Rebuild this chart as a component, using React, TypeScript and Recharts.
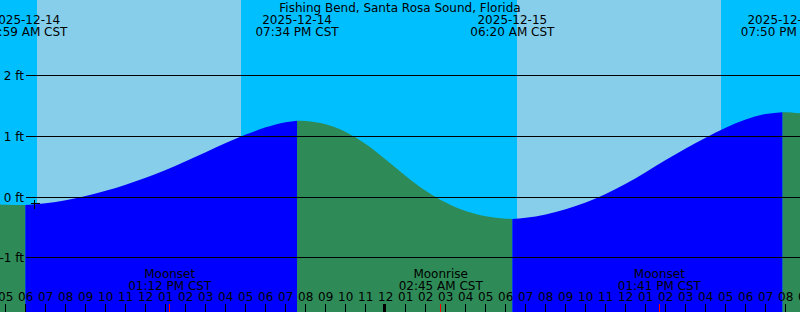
import React from 'react';
import { ComposedChart, Area, XAxis, YAxis, ReferenceArea, Scatter } from 'recharts';

const W = 800;
const H = 312;
const FONT = '"DejaVu Sans", sans-serif';

// hours counted from 2025-12-14 00:00 CST; water level in feet
const sampleHours = [4.715, 5, 5.983, 7, 8, 9, 10, 11, 12, 13, 14, 15, 16, 17, 18, 19, 19.567, 20, 21, 22, 23, 24, 25, 26, 27, 28, 29, 30, 30.333, 31, 32, 33, 34, 35, 36, 37, 38, 39, 40, 41, 42, 43, 43.833, 44.3, 44.715];
const sampleFeet = [-0.12, -0.125, -0.13, -0.1, -0.05, 0.018, 0.103, 0.203, 0.318, 0.448, 0.59, 0.74, 0.89, 1.03, 1.15, 1.235, 1.26, 1.254, 1.199, 1.074, 0.874, 0.619, 0.349, 0.104, -0.091, -0.231, -0.316, -0.356, -0.36, -0.34, -0.285, -0.202, -0.09, 0.052, 0.22, 0.41, 0.61, 0.8, 0.98, 1.145, 1.28, 1.37, 1.4, 1.395, 1.38];

const extremeHours = [5.983, 19.567, 30.333, 43.833];
const extremeFeet = [-0.13, 1.26, -0.36, 1.4];
const extremeDates = ['2025-12-14', '2025-12-14', '2025-12-15', '2025-12-15'];
const extremeTimes = ['05:59 AM CST', '07:34 PM CST', '06:20 AM CST', '07:50 PM CST'];

const sunriseHours = [6.565, 30.565];
const sunsetHours = [16.765, 40.765];

const moonHours = [13.2, 26.75, 37.683];
const moonEvents = ['Moonset', 'Moonrise', 'Moonset'];
const moonTimes = ['01:12 PM CST', '02:45 AM CST', '01:41 PM CST'];

const nowHours = [6.415];
const nowFeet = [-0.11];

const hourTicks = [5, 6, 7, 8, 9, 10, 11, 12, 13, 14, 15, 16, 17, 18, 19, 20, 21, 22, 23, 24, 25, 26, 27, 28, 29, 30, 31, 32, 33, 34, 35, 36, 37, 38, 39, 40, 41, 42, 43, 44, 45];
const hourLabels = ['05', '06', '07', '08', '09', '10', '11', '12', '01', '02', '03', '04', '05', '06', '07', '08', '09', '10', '11', '12', '01', '02', '03', '04', '05', '06', '07', '08', '09', '10', '11', '12', '01', '02', '03', '04', '05', '06', '07', '08', '09'];

const footTicks = [-1, 0, 1, 2];
const footLabels = ['-1 ft', '0 ft', '1 ft', '2 ft'];

const xDomain = [4.715, 44.715];
const yDomain = [-1.8939, 3.2487];

const tideRows = sampleHours.map((h, i) => {
  const v = sampleFeet[i];
  const next = extremeHours.findIndex((e) => e > h);
  let rising: boolean;
  if (next === -1) {
    const last = extremeHours.length - 1;
    rising = extremeFeet[last] < extremeFeet[last - 1];
  } else if (next === 0) {
    rising = extremeFeet[0] > extremeFeet[1];
  } else {
    rising = extremeFeet[next] > extremeFeet[next - 1];
  }
  const row: any = { h, rise: rising ? v : null, fall: rising ? null : v };
  if (extremeHours.includes(h)) {
    row.rise = v;
    row.fall = v;
  }
  return row;
});

const extremeRows = extremeHours.map((h, i) => ({ h, ft: extremeFeet[i], date: extremeDates[i], time: extremeTimes[i] }));
const moonRows = moonHours.map((h, i) => ({ h, ft: 0, name: moonEvents[i], time: moonTimes[i] }));
const nowRows = nowHours.map((h, i) => ({ h, ft: nowFeet[i] }));

const textStyle = { fontFamily: FONT, fontSize: 12, fill: '#000' };

const HourTick = (props: any) => {
  const { x, y, payload } = props;
  const h = payload.value;
  const idx = hourTicks.indexOf(h);
  const midnight = h % 24 === 0;
  const lx = midnight ? Math.floor(x) - 0.5 : Math.floor(x) + 0.5;
  return (
    <g>
      <line x1={lx} x2={lx} y1={y - 8} y2={y} stroke="#000" strokeWidth={midnight ? 3 : 1} shapeRendering="crispEdges" />
      <text x={x} y={y - 11} textAnchor="middle" style={textStyle}>{hourLabels[idx]}</text>
    </g>
  );
};

const FootTick = (props: any) => {
  const { x, y, payload } = props;
  const idx = footTicks.indexOf(payload.value);
  const ly = Math.floor(y) + 0.5;
  return (
    <g>
      <line x1={x + 26} x2={x + W} y1={ly} y2={ly} stroke="#000" strokeWidth={1} shapeRendering="crispEdges" />
      <text x={x + 24} y={y + 4.5} textAnchor="end" style={textStyle}>{footLabels[idx]}</text>
    </g>
  );
};

const ExtremeLabel = (props: any) => {
  const { cx, payload } = props;
  return (
    <g>
      <text x={cx} y={24} textAnchor="middle" style={textStyle}>{payload.date}</text>
      <text x={cx} y={36} textAnchor="middle" style={textStyle}>{payload.time}</text>
    </g>
  );
};

const MoonLabel = (props: any) => {
  const { cx, payload } = props;
  const lx = Math.floor(cx) + 0.5;
  return (
    <g>
      <text x={cx} y={278} textAnchor="middle" style={textStyle}>{payload.name}</text>
      <text x={cx} y={290} textAnchor="middle" style={textStyle}>{payload.time}</text>
      <line x1={lx} x2={lx} y1={H - 8} y2={H} stroke="#FF0000" strokeWidth={1} shapeRendering="crispEdges" />
    </g>
  );
};

const NowMark = (props: any) => {
  const { cx, cy } = props;
  const x = Math.floor(cx) + 0.5;
  const y = Math.floor(cy) + 0.5;
  return (
    <g>
      <line x1={x - 4} x2={x + 5} y1={y} y2={y} stroke="#000" strokeWidth={1} shapeRendering="crispEdges" />
      <line x1={x} x2={x} y1={y - 4} y2={y + 5} stroke="#000" strokeWidth={1} shapeRendering="crispEdges" />
    </g>
  );
};

export default function App() {
  return (
    <div style={{ position: 'absolute', left: 0, top: 0, width: W, height: H, background: '#00BFFF', overflow: 'hidden' }}>
      <ComposedChart width={W} height={H} data={tideRows} margin={{ top: 0, right: 0, bottom: 0, left: 0 }}>
        {sunriseHours.map((s, i) => (
          <ReferenceArea key={`day${i}`} x1={s} x2={sunsetHours[i]} y1={yDomain[0]} y2={yDomain[1]} fill="#87CEEB" fillOpacity={1} stroke="none" ifOverflow="hidden" zIndex={-60} />
        ))}
        <Area dataKey="fall" type="monotone" stroke="none" fill="#2E8B57" fillOpacity={1} baseValue="dataMin" isAnimationActive={false} dot={false} activeDot={false} />
        <Area dataKey="rise" type="monotone" stroke="none" fill="#0000FF" fillOpacity={1} baseValue="dataMin" isAnimationActive={false} dot={false} activeDot={false} />
        <XAxis
          type="number"
          dataKey="h"
          domain={xDomain}
          allowDataOverflow
          ticks={hourTicks}
          interval={0}
          height={0.001}
          tickSize={0}
          tickMargin={0}
          axisLine={false}
          tickLine={false}
          tick={<HourTick />}
          zIndex={700}
        />
        <YAxis
          type="number"
          domain={yDomain}
          allowDataOverflow
          ticks={footTicks}
          interval={0}
          width={0.001}
          tickSize={0}
          tickMargin={0}
          axisLine={false}
          tickLine={false}
          tick={<FootTick />}
          zIndex={700}
        />
        <Scatter data={extremeRows} dataKey="ft" shape={<ExtremeLabel />} isAnimationActive={false} />
        <Scatter data={moonRows} dataKey="ft" shape={<MoonLabel />} isAnimationActive={false} />
        <Scatter data={nowRows} dataKey="ft" shape={<NowMark />} isAnimationActive={false} />
      </ComposedChart>
      <div style={{ position: 'absolute', left: 0, top: 1, width: W, textAlign: 'center', fontFamily: FONT, fontSize: 12, lineHeight: '14px', color: '#000' }}>
        Fishing Bend, Santa Rosa Sound, Florida
      </div>
    </div>
  );
}
